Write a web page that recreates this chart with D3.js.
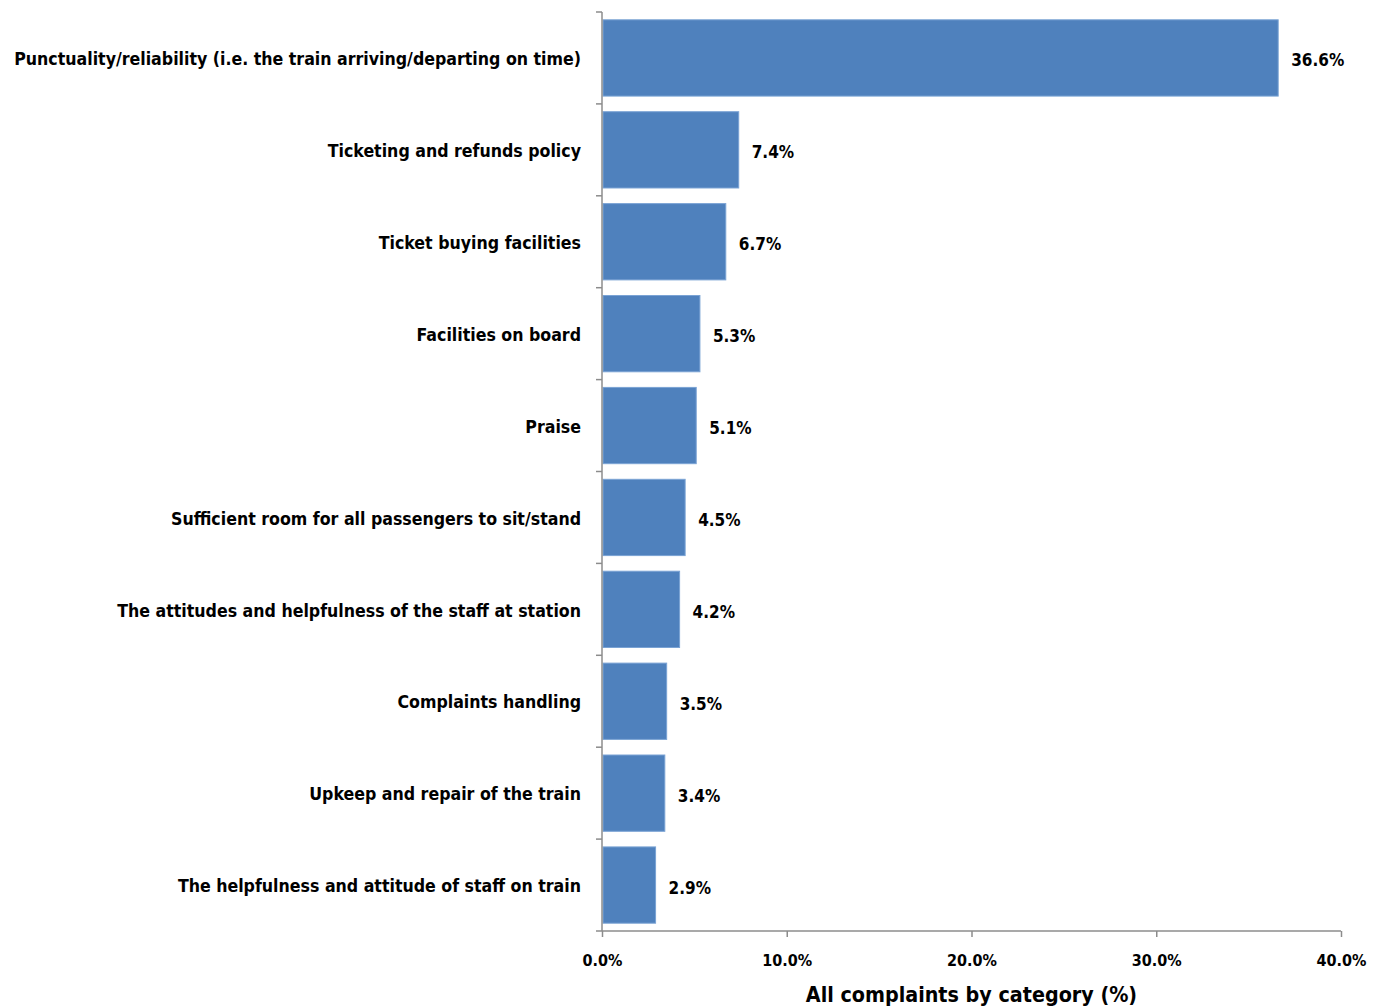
<!DOCTYPE html>
<html>
<head>
<meta charset="utf-8">
<script src="https://cdn.jsdelivr.net/npm/d3@7"></script>
<style>
  html, body { margin: 0; padding: 0; background: #fff; }
  svg text { font-family: "DejaVu Sans Condensed", "DejaVu Sans", sans-serif; font-weight: bold; fill: #000; }
</style>
</head>
<body>
<svg id="chart" width="1379" height="1008"></svg>
<script>
// Complaint categories, top to bottom
const categories = [
  "Punctuality/reliability (i.e. the train arriving/departing on time)",
  "Ticketing and refunds policy",
  "Ticket buying facilities",
  "Facilities on board",
  "Praise",
  "Sufficient room for all passengers to sit/stand",
  "The attitudes and helpfulness of the staff at station",
  "Complaints handling",
  "Upkeep and repair of the train",
  "The helpfulness and attitude of staff on train"
];
// Share of all complaints (%)
const shares = [36.6, 7.4, 6.7, 5.3, 5.1, 4.5, 4.2, 3.5, 3.4, 2.9];
const xTicks = [0, 10, 20, 30, 40];
const xTitle = "All complaints by category (%)";

const svg = d3.select("#chart");
const plot = { left: 602, right: 1341, top: 12, bottom: 931 };

const x = d3.scaleLinear().domain([0, 40]).range([plot.left, plot.right]);
const y = d3.scaleBand().domain(categories).range([plot.top, plot.bottom])
  .paddingInner(0.17).paddingOuter(0.085);

// Bars
svg.append("g").selectAll("rect")
  .data(categories)
  .join("rect")
  .attr("x", x(0) + 1)
  .attr("y", d => y(d))
  .attr("width", (d, i) => x(shares[i]) - x(0) - 1)
  .attr("height", y.bandwidth())
  .attr("fill", "#4F81BD")
  .attr("stroke", "#7aa3d4")
  .attr("stroke-width", 1);

// Value labels
svg.append("g").selectAll("text")
  .data(categories)
  .join("text")
  .attr("x", (d, i) => x(shares[i]) + 13)
  .attr("y", d => y(d) + y.bandwidth() / 2 + 2)
  .attr("dy", "0.38em")
  .style("font-size", "17px")
  .text((d, i) => shares[i].toFixed(1) + "%");

// Category labels
svg.append("g").selectAll("text")
  .data(categories)
  .join("text")
  .attr("x", 581)
  .attr("y", d => y(d) + y.bandwidth() / 2 + 1)
  .attr("dy", "0.35em")
  .attr("text-anchor", "end")
  .style("font-size", "17.6px")
  .text(d => d);

const axisColor = "#8c8c8c";

// Vertical category axis with ticks at band boundaries
const boundaries = d3.range(categories.length + 1).map(i => plot.top + (plot.bottom - plot.top) * i / categories.length);
svg.append("line")
  .attr("x1", plot.left).attr("x2", plot.left)
  .attr("y1", plot.top).attr("y2", plot.bottom)
  .attr("stroke", axisColor).attr("stroke-width", 1.5);
svg.append("g").selectAll("line")
  .data(boundaries)
  .join("line")
  .attr("x1", plot.left - 6).attr("x2", plot.left)
  .attr("y1", d => d).attr("y2", d => d)
  .attr("stroke", axisColor).attr("stroke-width", 1.5);

// Horizontal value axis
const xAxis = d3.axisBottom(x)
  .tickValues(xTicks)
  .tickSize(6)
  .tickFormat(d => d.toFixed(1) + "%");
const gx = svg.append("g")
  .attr("transform", `translate(0,${plot.bottom})`)
  .call(xAxis);
gx.select(".domain").attr("stroke", axisColor).attr("stroke-width", 1.5)
  .attr("d", `M${plot.left},0H${plot.right}`);
gx.selectAll(".tick line").attr("stroke", axisColor).attr("stroke-width", 1.5);
gx.selectAll(".tick text")
  .attr("y", 24)
  .style("font-size", "16px")
  .style("font-family", "'DejaVu Sans Condensed', 'DejaVu Sans', sans-serif")
  .style("font-weight", "bold")
  .attr("fill", "#000");

// Axis title
svg.append("text")
  .attr("x", (plot.left + plot.right) / 2)
  .attr("y", 1002)
  .attr("text-anchor", "middle")
  .style("font-size", "21.3px")
  .text(xTitle);
</script>
</body>
</html>
